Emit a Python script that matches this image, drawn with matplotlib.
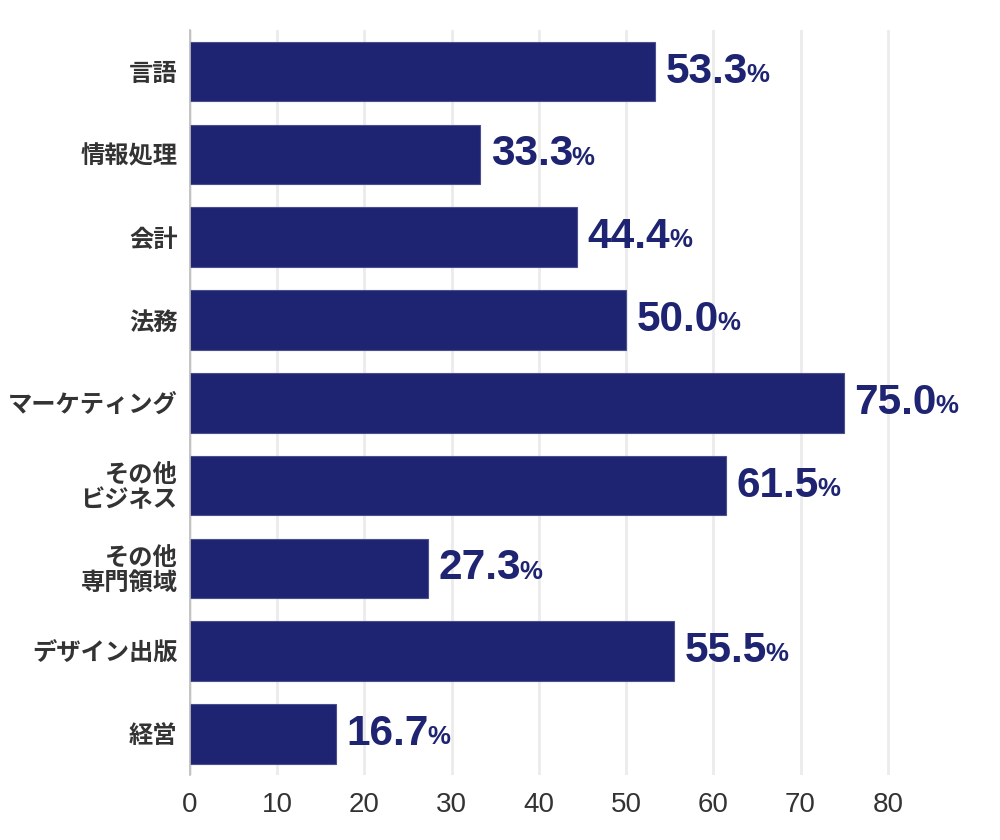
import matplotlib
matplotlib.use("Agg")
from matplotlib import pyplot as plt

plt.rcParams['font.family'] = ['Noto Sans CJK JP', 'DejaVu Sans']

categories = ['言語', '情報処理', '会計', '法務', 'マーケティング',
              'その他\nビジネス', 'その他\n専門領域', 'デザイン出版', '経営']
values = [53.3, 33.3, 44.4, 50.0, 75.0, 61.5, 27.3, 55.5, 16.7]
xticks = [0, 10, 20, 30, 40, 50, 60, 70, 80]

navy = '#1e2471'

fig = plt.figure(figsize=(10, 8.4), dpi=100)
ax = fig.add_axes([0.19, 0.077, 0.785, 0.887])

ypos = list(range(len(categories)))
ax.barh(ypos, values, height=0.72, color=navy, edgecolor='#4a4f8f',
        linewidth=0.8, zorder=3)

for y, v in zip(ypos, values):
    t = ax.annotate('%.1f' % v, xy=(v, y), xytext=(7.5, 0),
                    textcoords='offset points', va='center', ha='left',
                    fontsize=30.5, fontweight='bold', color=navy,
                    family=['Liberation Sans', 'DejaVu Sans'], zorder=4)
    ax.annotate('%', xy=(1, 0.12), xycoords=t, xytext=(-1, 0),
                textcoords='offset points', va='bottom', ha='left',
                fontsize=18.5, fontweight='bold', color=navy,
                family=['Liberation Sans', 'DejaVu Sans'])

ax.set_xlim(0, 90)
ax.set_ylim(8.5, -0.5)
ax.set_xticks(xticks)
ax.set_yticks(ypos)
ax.set_yticklabels(categories, fontsize=17.5, fontweight='bold', color='#333333',
                   linespacing=1.0)
ax.set_xticklabels([str(x) for x in xticks], fontsize=20, color='#333333',
                   family=['Liberation Sans', 'DejaVu Sans'])
ax.tick_params(axis='x', length=0, pad=12)
ax.tick_params(axis='y', length=0, pad=9)

ax.xaxis.grid(True, color='#ebebeb', linewidth=2, zorder=0)
ax.set_axisbelow(True)
for s in ['top', 'right', 'bottom']:
    ax.spines[s].set_visible(False)
ax.spines['left'].set_color('#bbbbbb')
ax.spines['left'].set_linewidth(1.2)
ax.spines['left'].set_zorder(5)

fig.savefig('out.png', dpi=100)
